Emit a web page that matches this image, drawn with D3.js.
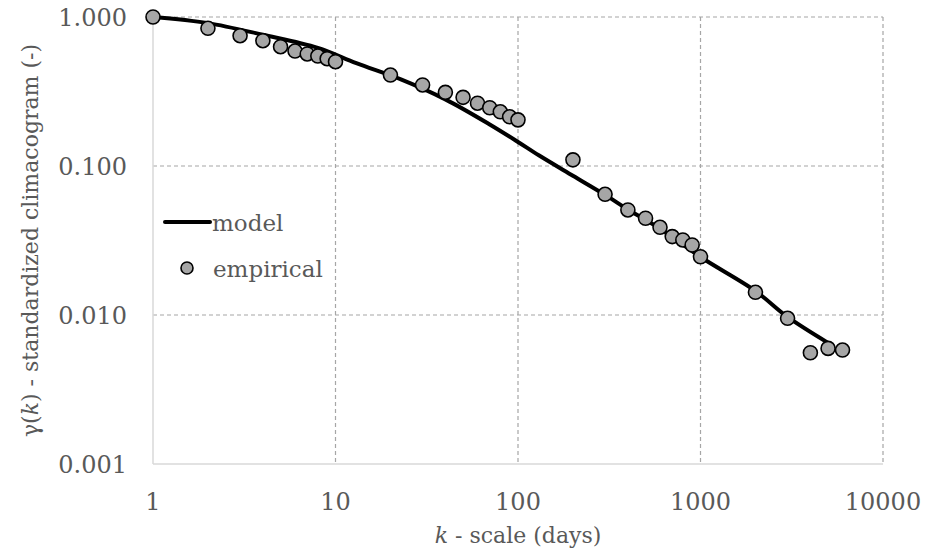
<!DOCTYPE html>
<html>
<head>
<meta charset="utf-8">
<script src="https://cdn.jsdelivr.net/npm/d3@7"></script>
<style>
  body { margin: 0; background: #fff; }
  text { font-family: "DejaVu Serif", serif; fill: #595959; }
</style>
</head>
<body>
<div id="chart"></div>
<script>
// empirical climacogram
var empK = [1, 2, 3, 4, 5, 6, 7, 8, 9, 10, 20, 30, 40, 50, 60, 70, 80, 90, 100,
            200, 300, 400, 500, 600, 700, 800, 900, 1000, 2000, 3000, 4000, 5000, 6000];
var empV = [1.0, 0.84, 0.749, 0.693, 0.632, 0.591, 0.565, 0.547, 0.525, 0.501,
            0.408, 0.35, 0.312, 0.289, 0.264, 0.246, 0.231, 0.214, 0.204,
            0.110, 0.0646, 0.0507, 0.0446, 0.0388, 0.0336, 0.0319, 0.0295, 0.0246,
            0.0142, 0.0095, 0.00558, 0.00597, 0.00582];

// fitted model curve
var modelK = [1, 2, 4, 8, 13, 23, 40, 70, 100, 130, 200, 300, 400, 600, 1000, 2000, 3000, 5000];
var modelV = [1.0, 0.91, 0.76, 0.62, 0.49, 0.38, 0.28, 0.19, 0.145, 0.118, 0.086,
              0.064, 0.051, 0.038, 0.0245, 0.0145, 0.0097, 0.0065];

var xTicks = [1, 10, 100, 1000, 10000];
var yTicks = [1, 0.1, 0.01, 0.001];

var width = 940, height = 552;
var margin = {left: 153, top: 17, right: 57, bottom: 88};
var plotW = width - margin.left - margin.right,
    plotH = height - margin.top - margin.bottom;

var x = d3.scaleLog().domain([1, 10000]).range([0, plotW]);
var y = d3.scaleLog().domain([0.001, 1]).range([plotH, 0]);

var svg = d3.select("#chart").append("svg")
    .attr("width", width)
    .attr("height", height);

var g = svg.append("g")
    .attr("transform", "translate(" + margin.left + "," + margin.top + ")");

// dashed grid
g.selectAll(".vgrid")
  .data(xTicks.slice(1)).enter().append("line")
    .attr("class", "vgrid")
    .attr("x1", function(d) {return x(d)})
    .attr("x2", function(d) {return x(d)})
    .attr("y1", 0).attr("y2", plotH)
    .attr("stroke", "#a6a6a6")
    .attr("stroke-width", 1.2)
    .attr("stroke-dasharray", "4,3");
g.selectAll(".hgrid")
  .data(yTicks.slice(0, -1)).enter().append("line")
    .attr("class", "hgrid")
    .attr("x1", 0).attr("x2", plotW)
    .attr("y1", function(d) {return y(d)})
    .attr("y2", function(d) {return y(d)})
    .attr("stroke", "#a6a6a6")
    .attr("stroke-width", 1.2)
    .attr("stroke-dasharray", "4,3");

// solid axis lines
g.append("line").attr("x1", 0).attr("x2", 0).attr("y1", 0).attr("y2", plotH)
  .attr("stroke", "#d9d9d9").attr("stroke-width", 1.5);
g.append("line").attr("x1", 0).attr("x2", plotW).attr("y1", plotH).attr("y2", plotH)
  .attr("stroke", "#d9d9d9").attr("stroke-width", 1.5);

// tick labels
g.selectAll(".ylab")
  .data(yTicks).enter().append("text")
    .attr("class", "ylab")
    .attr("x", -26)
    .attr("y", function(d) {return y(d)})
    .attr("dy", "0.36em")
    .attr("text-anchor", "end")
    .style("font-size", "24px")
    .text(function(d) {return d3.format(".3f")(d)});
g.selectAll(".xlab")
  .data(xTicks).enter().append("text")
    .attr("class", "xlab")
    .attr("x", function(d) {return x(d)})
    .attr("y", plotH + 46)
    .attr("text-anchor", "middle")
    .style("font-size", "24px")
    .text(function(d) {return d});

// model line
var modelData = modelK.map(function(k, i) {return {k: k, v: modelV[i]}});
var line = d3.line()
    .x(function(d) {return x(d.k)})
    .y(function(d) {return y(d.v)})
    .curve(d3.curveCatmullRom.alpha(0.5));
g.append("path")
    .datum(modelData)
    .attr("d", line)
    .attr("fill", "none")
    .attr("stroke", "black")
    .attr("stroke-width", 4)
    .attr("stroke-linejoin", "round");

// empirical points
var empData = empK.map(function(k, i) {return {k: k, v: empV[i]}});
g.selectAll(".pt")
  .data(empData).enter().append("circle")
    .attr("class", "pt")
    .attr("cx", function(d) {return x(d.k)})
    .attr("cy", function(d) {return y(d.v)})
    .attr("r", 7)
    .attr("fill", "#a6a6a6")
    .attr("stroke", "black")
    .attr("stroke-width", 1.6);

// legend
var leg = svg.append("g");
leg.append("line").attr("x1", 165).attr("x2", 210).attr("y1", 222).attr("y2", 222)
  .attr("stroke", "black").attr("stroke-width", 4).attr("stroke-linecap", "round");
leg.append("text").attr("x", 212).attr("y", 231).style("font-size", "23px").text("model");
leg.append("circle").attr("cx", 187).attr("cy", 268).attr("r", 6)
  .attr("fill", "#a6a6a6").attr("stroke", "black").attr("stroke-width", 1.6);
leg.append("text").attr("x", 213).attr("y", 277).style("font-size", "23px").text("empirical");

// axis titles
var xt = svg.append("text")
    .attr("x", margin.left + plotW / 2)
    .attr("y", 543)
    .attr("text-anchor", "middle")
    .style("font-size", "22px");
xt.append("tspan").style("font-style", "italic").text("k");
xt.append("tspan").text(" - scale (days)");

var yt = svg.append("text")
    .attr("transform", "translate(38," + (margin.top + plotH / 2) + ") rotate(-90)")
    .attr("text-anchor", "middle")
    .style("font-size", "22px");
yt.append("tspan").text("γ(");
yt.append("tspan").style("font-style", "italic").text("k");
yt.append("tspan").text(") - standardized climacogram (-)");
</script>
</body>
</html>
